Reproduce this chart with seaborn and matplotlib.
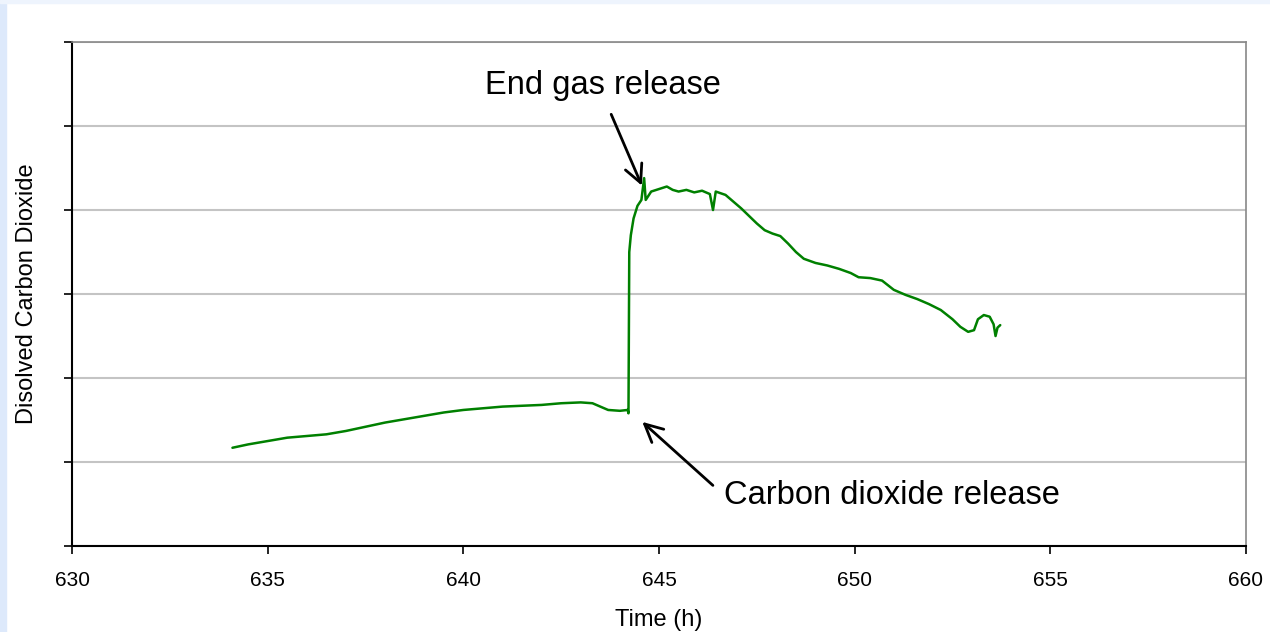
import seaborn as sns
from matplotlib import pyplot as plt
from matplotlib.patches import Rectangle
import pandas as pd

# time (h) and dissolved CO2 (arbitrary units)
time_h = [634.1, 634.5, 635.0, 635.5, 636.0, 636.5, 637.0, 637.5, 638.0, 638.5,
          639.0, 639.5, 640.0, 640.5, 641.0, 641.5, 642.0, 642.5, 643.0, 643.3,
          643.5, 643.7, 644.0, 644.2, 644.22, 644.24, 644.28, 644.35, 644.45, 644.55,
          644.62, 644.66, 644.8, 645.0, 645.2, 645.35, 645.5, 645.7, 645.9, 646.1,
          646.3, 646.38, 646.45, 646.7, 646.9, 647.1, 647.3, 647.5, 647.7, 647.9,
          648.1, 648.3, 648.5, 648.7, 649.0, 649.3, 649.6, 649.9, 650.1, 650.4,
          650.7, 651.0, 651.3, 651.6, 651.9, 652.2, 652.5, 652.7, 652.9, 653.05,
          653.15, 653.3, 653.45, 653.55, 653.6, 653.65, 653.72]
co2 = [1.17, 1.21, 1.25, 1.29, 1.31, 1.33, 1.37, 1.42, 1.47, 1.51,
       1.55, 1.59, 1.62, 1.64, 1.66, 1.67, 1.68, 1.70, 1.71, 1.70,
       1.66, 1.62, 1.61, 1.62, 1.58, 3.50, 3.70, 3.90, 4.05, 4.12,
       4.38, 4.12, 4.22, 4.25, 4.28, 4.24, 4.22, 4.24, 4.21, 4.23,
       4.19, 4.00, 4.22, 4.18, 4.10, 4.02, 3.93, 3.84, 3.76, 3.72,
       3.69, 3.60, 3.50, 3.42, 3.37, 3.34, 3.30, 3.25, 3.20, 3.19,
       3.16, 3.05, 2.99, 2.94, 2.88, 2.81, 2.70, 2.61, 2.55, 2.57,
       2.70, 2.75, 2.73, 2.64, 2.50, 2.60, 2.63]

x_ticks = [630, 635, 640, 645, 650, 655, 660]
y_ticks = [0, 1, 2, 3, 4, 5, 6]

df = pd.DataFrame({"time": time_h, "co2": co2})

sns.set_style("white")
plt.rcParams["font.family"] = ["Liberation Sans", "DejaVu Sans"]
plt.rcParams["text.color"] = "black"
plt.rcParams["axes.labelcolor"] = "black"
plt.rcParams["xtick.color"] = "black"
plt.rcParams["ytick.color"] = "black"

fig = plt.figure(figsize=(12.7, 6.32), dpi=100)
fig.patches.append(Rectangle((0, 0), 0.005, 1, transform=fig.transFigure,
                             color="#dde9fb", zorder=0))
fig.patches.append(Rectangle((0, 0.995), 1, 0.005, transform=fig.transFigure,
                             color="#eef4fd", zorder=0))
ax = fig.add_axes([0.0567, 0.136, 0.9244, 0.7975])

sns.lineplot(data=df, x="time", y="co2", color="#008000", linewidth=1.8,
             estimator=None, sort=False, ax=ax)

ax.set_xlim(630, 660)
ax.set_ylim(0, 6)
ax.set_xticks(x_ticks)
ax.set_yticks(y_ticks)
ax.set_yticklabels([])
ax.grid(axis="y", color="#c4c4c4", linewidth=1.5)
ax.grid(axis="x", visible=False)
ax.tick_params(axis="x", direction="out", length=6, width=1.2,
               labelsize=15, pad=12)
ax.tick_params(axis="y", direction="out", length=6, width=1.2)
ax.tick_params(bottom=True, left=True)

for side in ["left", "bottom"]:
    ax.spines[side].set_color("black")
    ax.spines[side].set_linewidth(1.5)
for side in ["top", "right"]:
    ax.spines[side].set_color("#888888")
    ax.spines[side].set_linewidth(1.2)

ax.set_xlabel("Time (h)", fontsize=17, labelpad=14)
ax.set_ylabel("Disolved Carbon Dioxide", fontsize=17, labelpad=15)

ax.text(643.57, 5.48, "End gas release", fontsize=23.5, ha="center", va="center")
ax.annotate("", xy=(644.59, 4.26), xytext=(643.75, 5.17),
            arrowprops=dict(arrowstyle="->", color="black", lw=2,
                            mutation_scale=32))
ax.text(646.66, 0.60, "Carbon dioxide release", fontsize=23.5, ha="left", va="center")
ax.annotate("", xy=(644.52, 1.50), xytext=(646.43, 0.70),
            arrowprops=dict(arrowstyle="->", color="black", lw=2,
                            mutation_scale=32))

fig.savefig("out.png", dpi=100)
